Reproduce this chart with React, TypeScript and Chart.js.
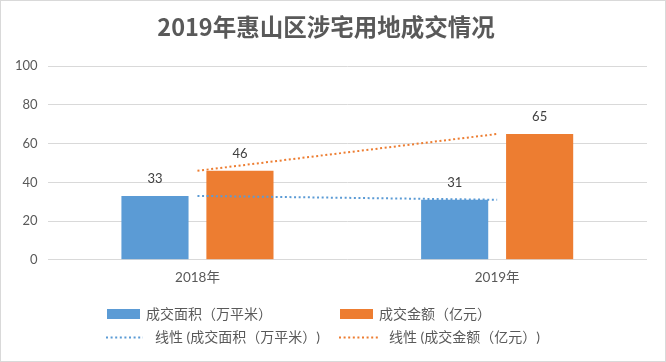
import React, { useEffect, useRef } from "react";
import { Chart, registerables } from "chart.js";

Chart.register(...registerables);

const categories = ["2018年", "2019年"];
const areaValues = [33, 31];
const amountValues = [46, 65];
const areaLabel = "成交面积（万平米）";
const amountLabel = "成交金额（亿元）";
const areaTrendLabel = "线性 (成交面积（万平米）)";
const amountTrendLabel = "线性 (成交金额（亿元）)";
const titleText = "2019年惠山区涉宅用地成交情况";

const BLUE = "#5b9bd5";
const ORANGE = "#ed7d31";
const FONT = '"Lato", "Noto Sans CJK SC", sans-serif';

const backgroundPlugin = {
  id: "bgBorder",
  beforeDraw(chart: any) {
    const { ctx, width, height } = chart;
    ctx.save();
    ctx.fillStyle = "#ffffff";
    ctx.fillRect(0, 0, width, height);
    ctx.strokeStyle = "#d9d9d9";
    ctx.lineWidth = 1;
    ctx.strokeRect(0.5, 0.5, width - 1, height - 1);
    ctx.restore();
  },
};

const valueLabelPlugin = {
  id: "valueLabels",
  afterDatasetsDraw(chart: any) {
    const { ctx } = chart;
    ctx.save();
    ctx.font = `13px ${FONT}`;
    ctx.fillStyle = "#404040";
    ctx.textAlign = "center";
    ctx.textBaseline = "middle";
    chart.data.datasets.forEach((ds: any, i: number) => {
      if (ds.type === "line") return;
      const meta = chart.getDatasetMeta(i);
      meta.data.forEach((el: any, j: number) => {
        ctx.fillText(String(ds.data[j]), el.x, el.y - 17);
      });
    });
    ctx.restore();
  },
};

const legendPlugin = {
  id: "customLegend",
  afterDraw(chart: any) {
    const { ctx } = chart;
    const ds = chart.data.datasets;
    ctx.save();
    ctx.font = `14px ${FONT}`;
    ctx.fillStyle = "#595959";
    ctx.textBaseline = "middle";
    ctx.textAlign = "left";
    const row1 = 314;
    const row2 = 337.5;
    const cols = [
      { box: 107, text: 146, line: 106, lineEnd: 143, ltext: 155 },
      { box: 340, text: 379, line: 339, lineEnd: 380, ltext: 389 },
    ];
    const bars = ds.filter((d: any) => d.type !== "line");
    const lines = ds.filter((d: any) => d.type === "line");
    bars.forEach((d: any, i: number) => {
      const c = cols[i];
      ctx.fillStyle = d.backgroundColor;
      ctx.fillRect(c.box, row1 - 5, 33, 10);
      ctx.fillStyle = "#595959";
      ctx.fillText(d.label, c.text, row1);
    });
    lines.forEach((d: any, i: number) => {
      const c = cols[i];
      ctx.strokeStyle = d.borderColor;
      ctx.lineWidth = 2;
      ctx.setLineDash([2, 2.6]);
      ctx.beginPath();
      ctx.moveTo(c.line, row2);
      ctx.lineTo(c.lineEnd, row2);
      ctx.stroke();
      ctx.setLineDash([]);
      ctx.fillStyle = "#595959";
      ctx.fillText(d.label, c.ltext, row2);
    });
    ctx.restore();
  },
};

export default function App() {
  const ref = useRef<HTMLCanvasElement | null>(null);

  useEffect(() => {
    document.body.style.margin = "0";
    if (!ref.current) return;
    const chart = new Chart(ref.current, {
      type: "bar",
      data: {
        labels: categories,
        datasets: [
          {
            type: "line",
            label: areaTrendLabel,
            data: areaValues,
            borderColor: BLUE,
            borderWidth: 2,
            borderDash: [2, 2.6],
            pointRadius: 0,
            fill: false,
            order: 1,
          } as any,
          {
            type: "line",
            label: amountTrendLabel,
            data: amountValues,
            borderColor: ORANGE,
            borderWidth: 2,
            borderDash: [2, 2.6],
            pointRadius: 0,
            fill: false,
            order: 1,
          } as any,
          {
            type: "bar",
            label: areaLabel,
            data: areaValues,
            backgroundColor: BLUE,
            categoryPercentage: 0.567,
            barPercentage: 0.79,
            order: 2,
          } as any,
          {
            type: "bar",
            label: amountLabel,
            data: amountValues,
            backgroundColor: ORANGE,
            categoryPercentage: 0.567,
            barPercentage: 0.79,
            order: 2,
          } as any,
        ],
      },
      options: {
        animation: false,
        responsive: false,
        layout: { padding: { left: 5, right: 19, bottom: 66, top: 0 } },
        plugins: {
          legend: { display: false },
          tooltip: { enabled: false },
          title: {
            display: true,
            text: titleText,
            color: "#595959",
            font: { size: 23.5, weight: "bold", family: '"Noto Sans CJK SC", sans-serif', lineHeight: 1.2 },
            padding: { top: 13, bottom: 25 },
          },
        },
        scales: {
          x: {
            grid: { display: false, drawTicks: false },
            border: { display: false },
            ticks: { color: "#595959", font: { size: 13.5, family: FONT }, padding: 10 },
          },
          y: {
            min: 0,
            max: 100,
            grid: { color: "#d9d9d9", drawTicks: false, lineWidth: 1 },
            border: { display: false },
            ticks: { stepSize: 20, color: "#595959", font: { size: 13, family: FONT }, padding: 10 },
          },
        },
      } as any,
      plugins: [backgroundPlugin, valueLabelPlugin, legendPlugin],
    });
    return () => chart.destroy();
  }, []);

  return <canvas ref={ref} width={666} height={362} style={{ display: "block" }} />;
}
